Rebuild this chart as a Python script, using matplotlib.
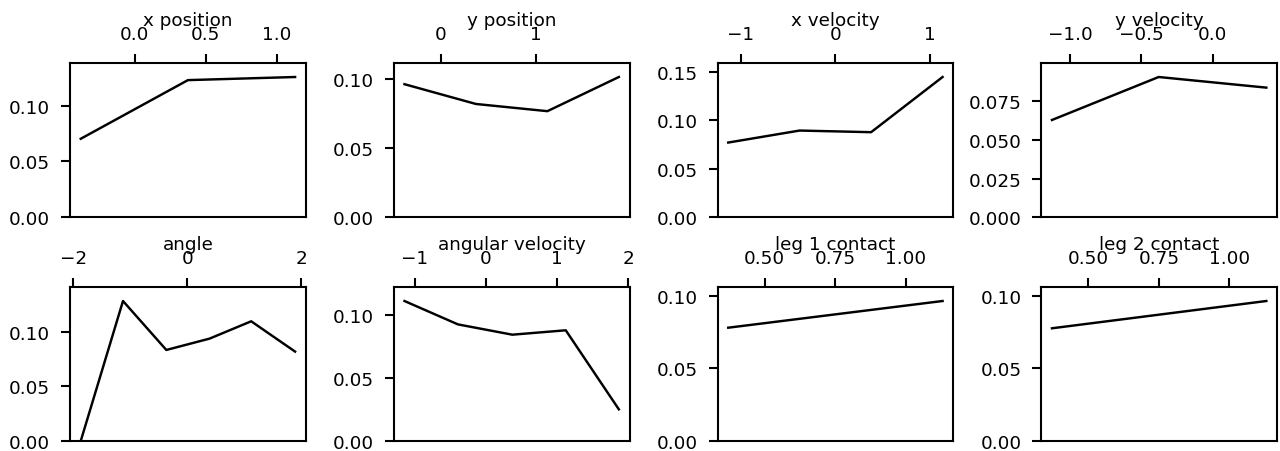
import matplotlib
matplotlib.use("Agg")
import matplotlib.pyplot as plt

features = ["x position", "y position", "x velocity", "y velocity",
            "angle", "angular velocity", "leg 1 contact", "leg 2 contact"]

# bin centres and mean values
x_pos_x = [-0.38, 0.375, 1.13]
x_pos_y = [0.0703, 0.1230, 0.1258]
y_pos_x = [-0.379, 0.371, 1.121, 1.871]
y_pos_y = [0.0960, 0.0817, 0.0765, 0.1012]
x_vel_x = [-1.13, -0.376, 0.379, 1.134]
x_vel_y = [0.0769, 0.0893, 0.0876, 0.1446]
y_vel_x = [-1.129, -0.379, 0.378]
y_vel_y = [0.0630, 0.0909, 0.0840]
angle_x = [-1.866, -1.126, -0.367, 0.390, 1.119, 1.888]
angle_y = [0.0, 0.1284, 0.0835, 0.0939, 0.1098, 0.0820]
ang_vel_x = [-1.143, -0.392, 0.372, 1.123, 1.869]
ang_vel_y = [0.1114, 0.0928, 0.0846, 0.0881, 0.0252]
leg1_x = [0.371, 1.130]
leg1_y = [0.0781, 0.0965]
leg2_x = [0.371, 1.131]
leg2_y = [0.0777, 0.0965]

series = [(x_pos_x, x_pos_y), (y_pos_x, y_pos_y), (x_vel_x, x_vel_y),
          (y_vel_x, y_vel_y), (angle_x, angle_y), (ang_vel_x, ang_vel_y),
          (leg1_x, leg1_y), (leg2_x, leg2_y)]

plt.rcParams['font.family'] = ['DejaVu Sans']

fig, axes = plt.subplots(2, 4, figsize=(12.8, 4.52), dpi=100)
fig.subplots_adjust(left=0.0547, right=0.9977, top=0.8584, bottom=0.0221,
                    wspace=0.373, hspace=0.4545)

for ax, name, (xs, ys) in zip(axes.flat, features, series):
    ax.plot(xs, ys, color='black', lw=1.75)
    ax.set_ylim(0, max(ys) * 1.1)
    ax.xaxis.tick_top()
    ax.tick_params(axis='both', length=6.2, width=1.5, labelsize=13.2, pad=8)
    for sp in ax.spines.values():
        sp.set_linewidth(1.5)
    ax.set_title(name, fontsize=13.2, y=1.245, pad=0)

fig.savefig("out.png", dpi=100)
